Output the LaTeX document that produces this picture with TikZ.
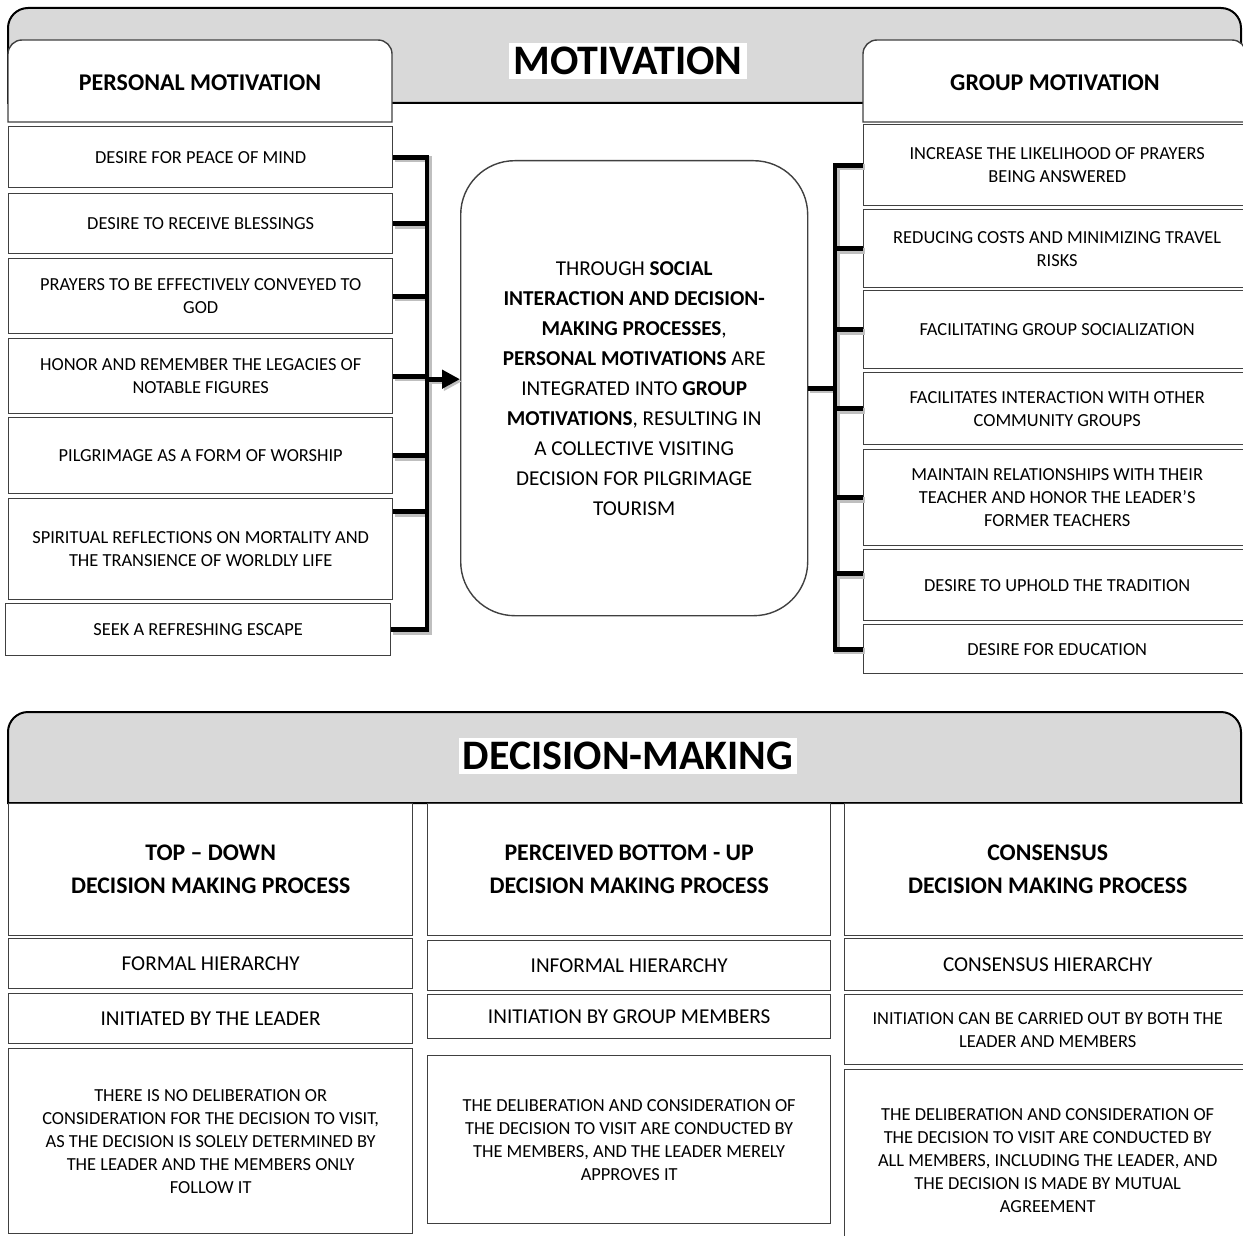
\documentclass[tikz,border=0pt]{standalone}
\usepackage{fontspec}
\setmainfont{Carlito}
\usetikzlibrary{positioning,calc,arrows.meta}
\newdimen\px
\px=0.5pt
\tikzset{
	wh/.style 2 args={minimum width=#1*\px, minimum height=#2*\px},
	cell/.style={draw=black!75, line width=0.7pt, fill=white, anchor=north west, align=center, inner sep=2pt, font=\fontsize{9.2}{11.5}\selectfont},
	bigcell/.style={cell, font=\fontsize{10.6}{13}\selectfont},
	headcell/.style={cell, font=\bfseries\fontsize{11.9}{16.5}\selectfont},
	banner/.style={draw=black, line width=1pt, fill=black!15},
	tab/.style={draw=black!75, line width=0.7pt, fill=white},
	title/.style={fill=white, inner sep=2pt, font=\bfseries\fontsize{21}{25}\selectfont},
	bracket/.style={line width=2.4pt, black, preaction={draw=black!25, line width=3pt, transform canvas={shift={(0.9pt,-1.1pt)}}}}
}

\begin{document}
\begin{tikzpicture}[x=0.5pt,y=-0.5pt]
\useasboundingbox (0,0) rectangle (1243,1236);
\clip (0,0) rectangle (1243,1236);

%Bandeau motivation
\draw[banner] (8,103) [rounded corners=10pt] -- (8,8) -- (1241,8) [sharp corners] -- (1241,103) -- cycle;
\node[title] (mot) at (628,61) {MOTIVATION};

%Onglets
\draw[tab] (8,122) [rounded corners=7pt] -- (8,40) -- (392,40) [sharp corners] -- (392,122) -- cycle;
\node[font=\bfseries\fontsize{12}{14}\selectfont] (ph) at (200,83) {PERSONAL MOTIVATION};
\draw[tab] (863,122) [rounded corners=7pt] -- (863,40) -- (1246,40) [sharp corners] -- (1246,122) -- cycle;
\node[font=\bfseries\fontsize{12}{14}\selectfont] (gh) at (1055,83) {GROUP MOTIVATION};

%Motivations personnelles
\node[cell, wh={384}{61}] (p1) at (8,126) {DESIRE FOR PEACE OF MIND};
\node[cell, wh={384}{60}] (p2) at (8,193) {DESIRE TO RECEIVE BLESSINGS};
\node[cell, wh={384}{75}] (p3) at (8,258) {PRAYERS TO BE EFFECTIVELY CONVEYED TO\\GOD};
\node[cell, wh={384}{75}] (p4) at (8,338) {HONOR AND REMEMBER THE LEGACIES OF\\NOTABLE FIGURES};
\node[cell, wh={384}{76}] (p5) at (8,417) {PILGRIMAGE AS A FORM OF WORSHIP};
\node[cell, wh={384}{101}] (p6) at (8,498) {SPIRITUAL REFLECTIONS ON MORTALITY AND\\THE TRANSIENCE OF WORLDLY LIFE};
\node[cell, wh={385}{52}] (p7) at (5,603) {SEEK A REFRESHING ESCAPE};

%Motivations de groupe
\node[cell, wh={387}{81}] (g1) at (863,124) {INCREASE THE LIKELIHOOD OF PRAYERS\\BEING ANSWERED};
\node[cell, wh={387}{78}] (g2) at (863,209) {REDUCING COSTS AND MINIMIZING TRAVEL\\RISKS};
\node[cell, wh={387}{78}] (g3) at (863,290) {FACILITATING GROUP SOCIALIZATION};
\node[cell, wh={387}{72}] (g4) at (863,372) {FACILITATES INTERACTION WITH OTHER\\COMMUNITY GROUPS};
\node[cell, wh={387}{96}] (g5) at (863,449) {MAINTAIN RELATIONSHIPS WITH THEIR\\TEACHER AND HONOR THE LEADER'S\\FORMER TEACHERS};
\node[cell, wh={387}{71}] (g6) at (863,549) {DESIRE TO UPHOLD THE TRADITION};
\node[cell, wh={387}{49}] (g7) at (863,624) {DESIRE FOR EDUCATION};

%Boite centrale
\node[cell, wh={347}{455}, rounded corners=27pt, font=\fontsize{10.6}{15}\selectfont] (mid) at (460,160)
	{THROUGH \textbf{SOCIAL}\\\textbf{INTERACTION AND DECISION-}\\\textbf{MAKING PROCESSES},\\\textbf{PERSONAL MOTIVATIONS} ARE\\INTEGRATED INTO \textbf{GROUP}\\\textbf{MOTIVATIONS}, RESULTING IN\\A COLLECTIVE VISITING\\DECISION FOR PILGRIMAGE\\TOURISM};

%Accolades
\coordinate (lbar) at (427,0);
\coordinate (rbar) at (835,0);
\coordinate (p6t) at ([yshift=18.75pt]p6.east);
\coordinate (g6t) at ([yshift=5.75pt]g6.west);
\coordinate (mida) at ([yshift=4.5pt]mid.west);

\draw[bracket] (p1.east) -- (p1.east -| lbar) -- (p7.east -| lbar) -- (p7.east)
	\foreach \n in {p2,p3,p4,p5,p6t} {(\n.east) -- (\n.east -| lbar)};
\draw[bracket,-{Triangle[length=9pt,width=9pt]}] (mida -| lbar) -- (mida);

\draw[bracket] (mid.east) -- (mid.east -| rbar);
\draw[bracket] (g1.west) -- (g1.west -| rbar) -- (g7.west -| rbar) -- (g7.west)
	\foreach \n in {g2,g3,g4,g5} {(\n.west) -- (\n.west -| rbar)}
	(g6t) -- (g6t -| rbar);

%Bandeau decision
\draw[banner] (8,803) [rounded corners=10pt] -- (8,712) -- (1241,712) [sharp corners] -- (1241,803) -- cycle;
\node[title] (dm) at (628,756) {DECISION-MAKING};

%Colonne 1
\node[headcell, wh={404}{132}] (c1h) at (8,803) {TOP – DOWN\\DECISION MAKING PROCESS};
\node[bigcell, wh={404}{50}] (c1a) at (8,938) {FORMAL HIERARCHY};
\node[bigcell, wh={404}{50}] (c1b) at (8,993) {INITIATED BY THE LEADER};
\node[cell, wh={404}{185}] (c1c) at (8,1048) {THERE IS NO DELIBERATION OR\\CONSIDERATION FOR THE DECISION TO VISIT,\\AS THE DECISION IS SOLELY DETERMINED BY\\THE LEADER AND THE MEMBERS ONLY\\FOLLOW IT};

%Colonne 2
\node[headcell, wh={403}{132}] (c2h) at (427,803) {PERCEIVED BOTTOM - UP\\DECISION MAKING PROCESS};
\node[bigcell, wh={403}{50}] (c2a) at (427,940) {INFORMAL HIERARCHY};
\node[bigcell, wh={403}{44}] (c2b) at (427,994) {INITIATION BY GROUP MEMBERS};
\node[cell, wh={403}{168}] (c2c) at (427,1055) {THE DELIBERATION AND CONSIDERATION OF\\THE DECISION TO VISIT ARE CONDUCTED BY\\THE MEMBERS, AND THE LEADER MERELY\\APPROVES IT};

%Colonne 3
\node[headcell, wh={406}{132}] (c3h) at (844,803) {CONSENSUS\\DECISION MAKING PROCESS};
\node[bigcell, wh={406}{52}] (c3a) at (844,938) {CONSENSUS HIERARCHY};
\node[cell, wh={406}{70}] (c3b) at (844,994) {INITIATION CAN BE CARRIED OUT BY BOTH THE\\LEADER AND MEMBERS};
\node[cell, wh={406}{181}] (c3c) at (844,1069) {THE DELIBERATION AND CONSIDERATION OF\\THE DECISION TO VISIT ARE CONDUCTED BY\\ALL MEMBERS, INCLUDING THE LEADER, AND\\THE DECISION IS MADE BY MUTUAL\\AGREEMENT};

\end{tikzpicture}
\end{document}
